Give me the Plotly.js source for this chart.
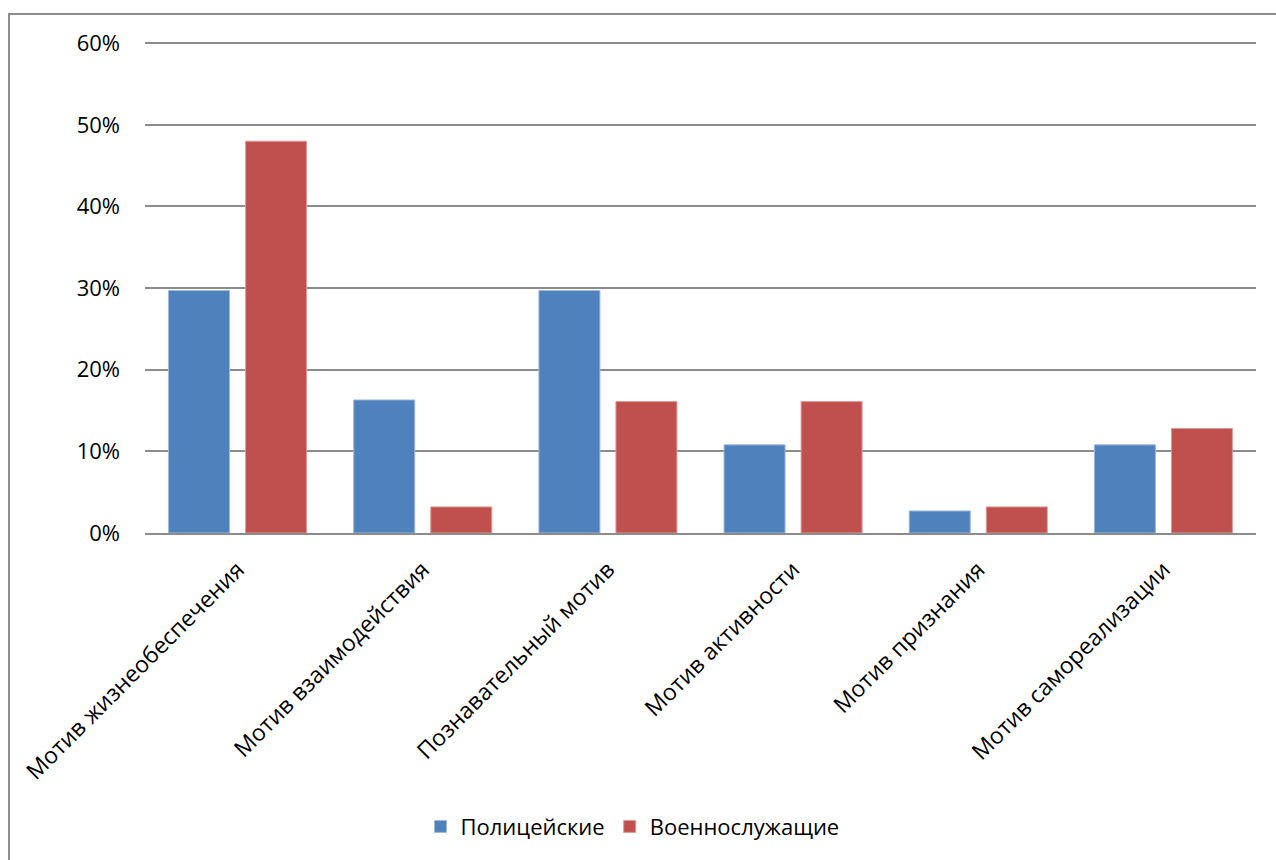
<!DOCTYPE html>
<html><head><meta charset="utf-8">
<script src="https://cdn.plot.ly/plotly-3.0.1.min.js"></script>
<style>
html,body{margin:0;padding:0;background:#fff;overflow:hidden;}
#frame{position:absolute;left:8px;top:13px;width:1300px;height:900px;border:2px solid #8c8c8c;box-sizing:border-box;pointer-events:none;z-index:5;}
#chart{position:absolute;left:0;top:0;width:1276px;height:860px;}
</style></head>
<body>
<div id="chart"></div>
<div id="frame"></div>
<script>
const categories = ["Мотив жизнеобеспечения","Мотив взаимодействия","Познавательный мотив","Мотив активности","Мотив признания","Мотив самореализации"];
const police = [0.297, 0.163, 0.297, 0.108, 0.027, 0.108];
const military = [0.480, 0.032, 0.161, 0.161, 0.032, 0.128];
const seriesNames = ["Полицейские","Военнослужащие"];
const yTicks = [0,0.1,0.2,0.3,0.4,0.5,0.6];

const font = "Open Sans, Noto Sans, sans-serif";
const traces = [
 {type:'bar', name:seriesNames[0], x:categories, y:police, marker:{color:'#4F81BD', line:{color:'#9db8db', width:1}}},
 {type:'bar', name:seriesNames[1], x:categories, y:military, marker:{color:'#C0504D', line:{color:'#dc9b99', width:1}}}
];
const layout = {
 width:1276, height:860,
 margin:{l:145, r:20, t:42, b:327},
 paper_bgcolor:'#fff', plot_bgcolor:'#fff',
 barmode:'group', bargap:0.168, bargroupgap:0.208,
 font:{family:font, size:22, color:'#000'},
 showlegend:true,
 legend:{orientation:'h', x:0.248, xanchor:'left', y:-0.598, yanchor:'middle', font:{size:22, family:font}, itemwidth:30, traceorder:'normal'},
 xaxis:{type:'category', tickangle:-45, showgrid:false, showline:true, linecolor:'#8c8c8c', linewidth:2, ticks:'', tickfont:{size:23, family:font}, automargin:false, ticklabelstandoff:12},
 yaxis:{range:[0,0.6015], tickvals:yTicks, tickformat:'.0%', showgrid:true, gridcolor:'#8c8c8c', gridwidth:2, zeroline:false, showline:false, ticks:'', ticklen:0, tickfont:{size:22, family:font}, automargin:false, ticklabelstandoff:24}
};
Plotly.newPlot('chart', traces, layout, {displayModeBar:false, staticPlot:true});
</script>
</body></html>
